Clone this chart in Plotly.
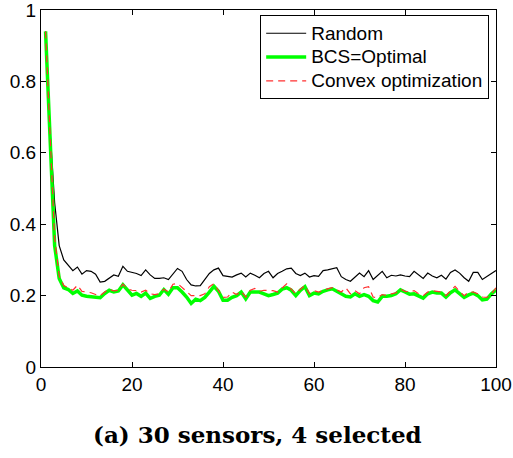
import plotly.graph_objects as go

# Iteration index
iterations = list(range(1, 101))

# Error for each sensor-selection strategy
random_sel = [
    0.94, 0.66, 0.46, 0.34, 0.30, 0.285, 0.27, 0.28, 0.26, 0.27,
    0.268, 0.26, 0.238, 0.24, 0.25, 0.258, 0.254, 0.282, 0.268, 0.265,
    0.262, 0.256, 0.272, 0.258, 0.248, 0.248, 0.25, 0.245, 0.26, 0.276,
    0.268, 0.245, 0.23, 0.227, 0.228, 0.245, 0.262, 0.272, 0.277, 0.256,
    0.254, 0.252, 0.258, 0.263, 0.252, 0.263, 0.257, 0.25, 0.262, 0.268,
    0.25, 0.262, 0.268, 0.275, 0.277, 0.262, 0.256, 0.263, 0.252, 0.256,
    0.254, 0.27, 0.272, 0.274, 0.278, 0.253, 0.245, 0.24, 0.252, 0.263,
    0.253, 0.27, 0.245, 0.258, 0.268, 0.25, 0.257, 0.255, 0.258, 0.255,
    0.253, 0.268, 0.258, 0.248, 0.263, 0.255, 0.25, 0.257, 0.246, 0.265,
    0.272, 0.263, 0.25, 0.24, 0.265, 0.265, 0.245, 0.253, 0.26, 0.27,
]
bcs_optimal = [
    0.94, 0.63, 0.34, 0.248, 0.222, 0.217, 0.206, 0.213, 0.201, 0.198,
    0.196, 0.196, 0.194, 0.206, 0.215, 0.21, 0.213, 0.23, 0.215, 0.201,
    0.206, 0.198, 0.207, 0.192, 0.198, 0.201, 0.217, 0.204, 0.222, 0.222,
    0.21, 0.196, 0.178, 0.19, 0.186, 0.195, 0.21, 0.226, 0.212, 0.187,
    0.187, 0.195, 0.2, 0.21, 0.191, 0.21, 0.21, 0.21, 0.205, 0.2,
    0.203, 0.207, 0.218, 0.222, 0.215, 0.2, 0.215, 0.225, 0.2, 0.207,
    0.205, 0.212, 0.216, 0.219, 0.212, 0.205, 0.198, 0.196, 0.205, 0.198,
    0.203, 0.198, 0.186, 0.182, 0.198, 0.198, 0.2, 0.205, 0.216, 0.21,
    0.204, 0.205, 0.2, 0.193, 0.205, 0.21, 0.207, 0.207, 0.196, 0.208,
    0.216, 0.204, 0.195, 0.202, 0.207, 0.2, 0.188, 0.19, 0.205, 0.216,
]
convex_opt = [
    0.94, 0.65, 0.36, 0.255, 0.228, 0.222, 0.215, 0.229, 0.212, 0.21,
    0.208, 0.203, 0.2, 0.21, 0.218, 0.213, 0.215, 0.232, 0.218, 0.215,
    0.214, 0.21, 0.215, 0.205, 0.203, 0.205, 0.218, 0.21, 0.232, 0.234,
    0.222, 0.21, 0.2, 0.2, 0.2, 0.205, 0.225, 0.233, 0.215, 0.195,
    0.196, 0.21, 0.203, 0.212, 0.196, 0.215, 0.22, 0.212, 0.215, 0.214,
    0.214, 0.21, 0.222, 0.233, 0.218, 0.205, 0.218, 0.228, 0.205, 0.214,
    0.21, 0.215, 0.219, 0.222, 0.216, 0.21, 0.222, 0.205, 0.214, 0.205,
    0.222, 0.225, 0.196, 0.194, 0.203, 0.2, 0.205, 0.208, 0.218, 0.212,
    0.21, 0.214, 0.205, 0.2, 0.21, 0.214, 0.212, 0.21, 0.2, 0.214,
    0.226, 0.212, 0.2, 0.21, 0.21, 0.205, 0.196, 0.195, 0.205, 0.222,
]

x_ticks = [0, 20, 40, 60, 80, 100]
y_ticks = [0, 0.2, 0.4, 0.6, 0.8, 1]
y_tick_text = ["0", "0.2", "0.4", "0.6", "0.8", "1"]
caption = "(a) 30 sensors, 4 selected"


def legend_label(text):
    # Larger glyphs than the legend row height implies, keeping rows compact
    return "<span style='font-size:19px'>" + text + "</span>"


fig = go.Figure()
fig.add_trace(go.Scatter(
    x=iterations, y=random_sel, mode="lines", name=legend_label("Random"),
    line=dict(color="black", width=1.2),
))
fig.add_trace(go.Scatter(
    x=iterations, y=bcs_optimal, mode="lines", name=legend_label("BCS=Optimal"),
    line=dict(color="#00ff00", width=3.5),
))
fig.add_trace(go.Scatter(
    x=iterations, y=convex_opt, mode="lines", name=legend_label("Convex optimization"),
    line=dict(color="#ff3030", width=1.2, dash="7px,5px"),
))

axis_common = dict(
    showline=True, linecolor="black", linewidth=1, mirror="ticks",
    ticks="inside", ticklen=5, tickcolor="black", tickwidth=1,
    showgrid=False, zeroline=False, automargin=False,
    ticklabeloverflow="allow",
    tickfont=dict(family="Liberation Sans, Arial", size=19, color="black"),
)

fig.update_layout(
    template="none",
    width=513, height=458,
    margin=dict(l=41, r=17, t=10, b=91),
    paper_bgcolor="white", plot_bgcolor="white",
    showlegend=True,
    legend=dict(
        x=0.985, y=0.985, xanchor="right", yanchor="top",
        bgcolor="white", bordercolor="black", borderwidth=1,
        font=dict(family="Liberation Sans, Arial", size=16, color="black"),
        itemwidth=40, tracegroupgap=0,
    ),
    xaxis=dict(range=[0, 100], tickvals=x_ticks, **axis_common),
    yaxis=dict(range=[0, 1], tickvals=y_ticks, ticktext=y_tick_text, **axis_common),
    annotations=[dict(
        text="<b>" + caption + "</b>", xref="paper", yref="paper",
        x=0.476, y=-0.19, xanchor="center", yanchor="middle", showarrow=False,
        font=dict(family="DejaVu Serif", size=23, color="black"),
    )],
)

fig.write_html("out.html")
